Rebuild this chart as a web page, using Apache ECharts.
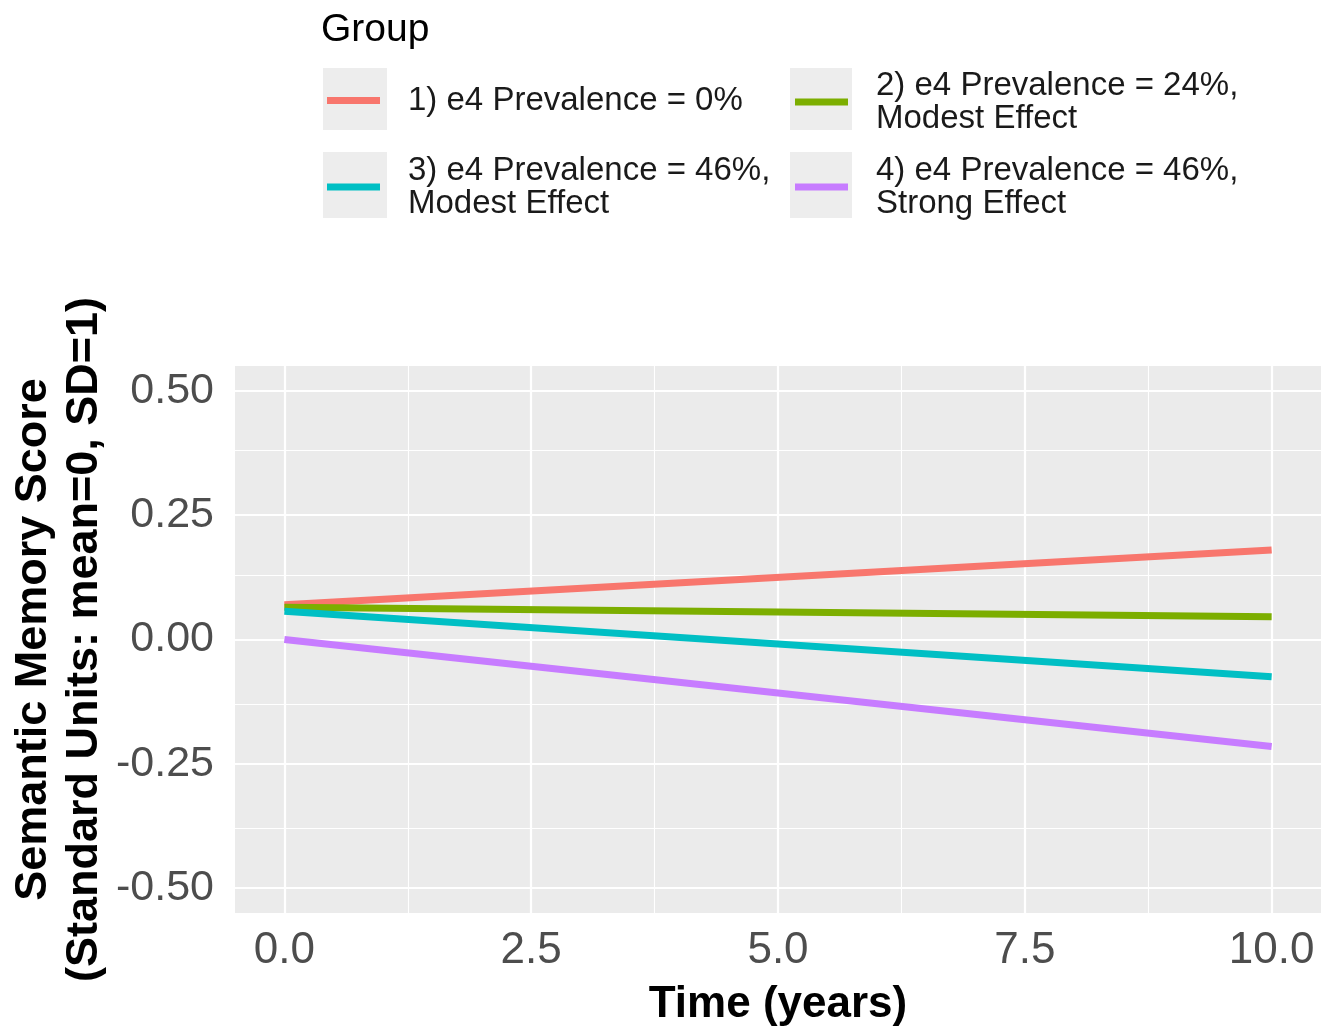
<!DOCTYPE html>
<html>
<head>
<meta charset="utf-8">
<script src="https://cdn.jsdelivr.net/npm/echarts@6/dist/echarts.min.js"></script>
<style>
html,body{margin:0;padding:0;background:#fff;}
#chart{width:1332px;height:1027px;}
</style>
</head>
<body>
<div id="chart"></div>
<script>
// ---- data ----
const timeYears = [0, 10];
const groupNames = [
  '1) e4 Prevalence = 0%',
  '2) e4 Prevalence = 24%,\nModest Effect',
  '3) e4 Prevalence = 46%,\nModest Effect',
  '4) e4 Prevalence = 46%,\nStrong Effect'
];
const group1 = [0.070, 0.180];
const group2 = [0.065, 0.046];
const group3 = [0.057, -0.075];
const group4 = [0.000, -0.215];
const xTicks = [0, 2.5, 5, 7.5, 10];
const xMinor = [1.25, 3.75, 6.25, 8.75];
const yTicks = [-0.5, -0.25, 0, 0.25, 0.5];
const yMinor = [-0.375, -0.125, 0.125, 0.375];

const colors = ['#F8766D', '#7CAE00', '#00BFC4', '#C77CFF'];
const groupValues = [group1, group2, group3, group4];
const FONT = 'Liberation Sans, Arial, Helvetica, sans-serif';

const chart = echarts.init(document.getElementById('chart'), null, {renderer: 'canvas'});

const dataSeries = groupValues.map((vals, i) => ({
  name: groupNames[i],
  type: 'line',
  data: timeYears.map((t, j) => [t, vals[j]]),
  symbol: 'none',
  lineStyle: {color: colors[i], width: 7, cap: 'butt'},
  itemStyle: {color: colors[i]},
  z: 5,
  silent: true
}));

const gridSeries = {
  type: 'line',
  data: [],
  z: 1,
  silent: true,
  markLine: {
    silent: true,
    symbol: ['none', 'none'],
    label: {show: false},
    animation: false,
    data: [
      ...xMinor.map(v => ({xAxis: v, lineStyle: {color: '#ffffff', width: 1.1, type: 'solid'}})),
      ...yMinor.map(v => ({yAxis: v, lineStyle: {color: '#ffffff', width: 1.1, type: 'solid'}})),
      ...xTicks.map(v => ({xAxis: v, lineStyle: {color: '#ffffff', width: 2.2, type: 'solid'}})),
      ...yTicks.map(v => ({yAxis: v, lineStyle: {color: '#ffffff', width: 2.2, type: 'solid'}}))
    ]
  }
};

const legendPos = [
  {left: 327, top: 84},
  {left: 795, top: 69},
  {left: 327, top: 154},
  {left: 795, top: 154}
];
const legends = groupNames.map((n, i) => ({
  data: [{name: n, icon: 'rect'}],
  left: legendPos[i].left,
  top: legendPos[i].top,
  padding: 0,
  orient: 'vertical',
  itemWidth: 53,
  itemHeight: 7,
  selectedMode: false,
  textStyle: {fontSize: 33, lineHeight: 33, color: '#1a1a1a', fontFamily: FONT, padding: [0, 0, 0, 23]}
}));

const option = {
  animation: false,
  backgroundColor: '#ffffff',
  grid: {left: 235, width: 1086, top: 366, height: 547, show: true, backgroundColor: '#EBEBEB', borderWidth: 0,
    containLabel: false, outerBoundsMode: 'none'},
  legend: legends,
  graphic: [
    {type: 'rect', shape: {x: 323, y: 68, width: 64, height: 62}, style: {fill: '#EDEDED'}, z: -1},
    {type: 'rect', shape: {x: 790, y: 68, width: 62, height: 62}, style: {fill: '#EDEDED'}, z: -1},
    {type: 'rect', shape: {x: 323, y: 152, width: 64, height: 66}, style: {fill: '#EDEDED'}, z: -1},
    {type: 'rect', shape: {x: 790, y: 152, width: 62, height: 66}, style: {fill: '#EDEDED'}, z: -1},
    {type: 'text', left: 321, top: 11, style: {text: 'Group', fontSize: 39, fontFamily: FONT, fill: '#000'}}
  ],
  xAxis: {
    type: 'value',
    min: -0.5,
    max: 10.5,
    name: 'Time (years)',
    nameLocation: 'middle',
    nameGap: 70,
    nameMoveOverlap: false,
    nameTextStyle: {fontSize: 44, fontWeight: 'bold', color: '#000', fontFamily: FONT},
    axisLine: {show: false},
    axisTick: {show: true, customValues: xTicks, length: 9, lineStyle: {color: '#333333', width: 2}},
    axisLabel: {show: true, customValues: xTicks, margin: 16, fontSize: 44, color: '#4D4D4D', fontFamily: FONT,
      formatter: v => v.toFixed(1)},
    splitLine: {show: false}
  },
  yAxis: {
    type: 'value',
    min: -0.55,
    max: 0.55,
    name: 'Semantic Memory Score\n(Standard Units: mean=0, SD=1)',
    nameLocation: 'middle',
    nameRotate: 90,
    nameGap: 125,
    nameMoveOverlap: false,
    nameTextStyle: {fontSize: 45, fontWeight: 'bold', color: '#000', fontFamily: FONT, lineHeight: 51},
    axisLine: {show: false},
    axisTick: {show: true, customValues: yTicks, length: 9, lineStyle: {color: '#333333', width: 2}},
    axisLabel: {show: true, customValues: yTicks, margin: 21, fontSize: 43, color: '#4D4D4D', fontFamily: FONT,
      formatter: v => v.toFixed(2)},
    splitLine: {show: false}
  },
  series: [gridSeries, ...dataSeries]
};
chart.setOption(option);
</script>
</body>
</html>
